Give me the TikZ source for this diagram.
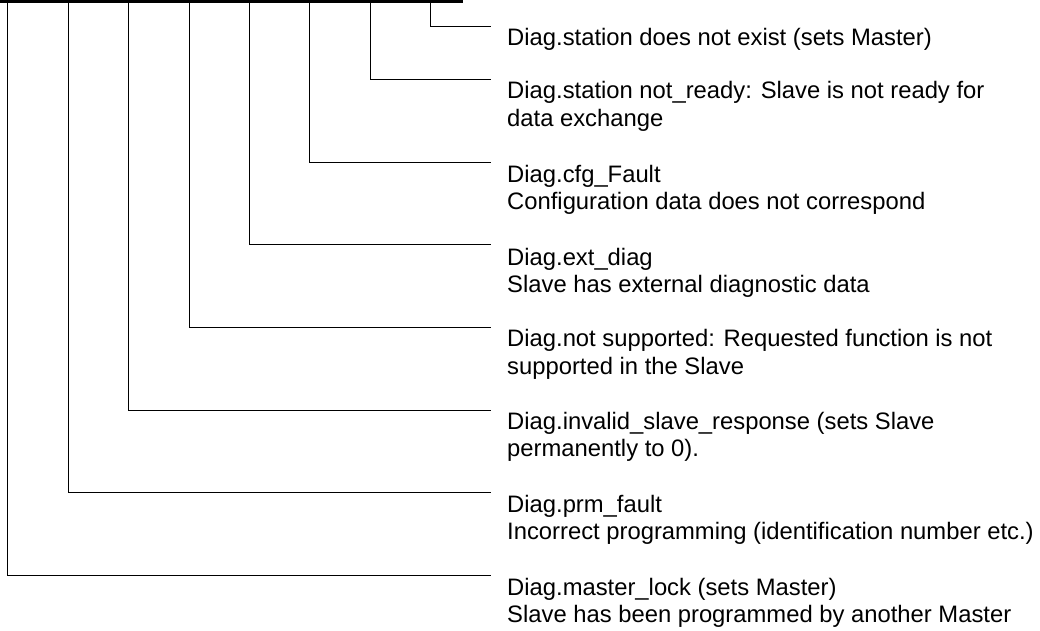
\documentclass[tikz,border=0pt]{standalone}
\usepackage{fontspec}
\setmainfont{Liberation Sans}

\begin{document}
\begin{tikzpicture}[x=1pt,y=-1pt]

      \useasboundingbox (0,0) rectangle (1040,630);

      \coordinate (busl) at (0,0);
      \coordinate (busr) at (463,0);

      \coordinate (b7) at (7.3,0);
      \coordinate (b6) at (68,0);
      \coordinate (b5) at (128.5,0);
      \coordinate (b4) at (189,0);
      \coordinate (b3) at (249,0);
      \coordinate (b2) at (309.5,0);
      \coordinate (b1) at (370,0);
      \coordinate (b0) at (430.7,0);

      \coordinate (e0) at (491,26);
      \coordinate (e1) at (491,79.3);
      \coordinate (e2) at (491,162.7);
      \coordinate (e3) at (491,244);
      \coordinate (e4) at (491,327.3);
      \coordinate (e5) at (491,410.5);
      \coordinate (e6) at (491,492);
      \coordinate (e7) at (491,575.3);

      \draw[line width=6pt] (busl) -- (busr);

      \begin{scope}[every node/.style={anchor=base west,align=left,inner sep=0pt,font=\fontsize{23.8}{27.8}\selectfont}]
        \node (d0) at (507,45) {Diag.station does not exist (sets Master)};
        \node (d1) at (507,126.3) {Diag.station not\_ready: Slave is not ready for\\data exchange};
        \node (d2) at (507,209.8) {Diag.cfg\_Fault\\Configuration data does not correspond};
        \node (d3) at (507,292.8) {Diag.ext\_diag\\Slave has external diagnostic data};
        \node (d4) at (507,374.3) {Diag.not supported: Requested function is not\\supported in the Slave};
        \node (d5) at (507,456.8) {Diag.invalid\_slave\_response (sets Slave\\permanently to 0).};
        \node (d6) at (507,539.8) {Diag.prm\_fault\\Incorrect programming (identification number etc.)};
        \node (d7) at (507,622.8) {Diag.master\_lock (sets Master)\\Slave has been programmed by another Master};
      \end{scope}

      \begin{scope}[every edge/.style={draw,line width=1pt,to path={|- (\tikztotarget)}}]
        \path (b0) edge (e0);
        \path (b1) edge (e1);
        \path (b2) edge (e2);
        \path (b3) edge (e3);
        \path (b4) edge (e4);
        \path (b5) edge (e5);
        \path (b6) edge (e6);
        \path (b7) edge (e7);
      \end{scope}

\end{tikzpicture}
\end{document}
